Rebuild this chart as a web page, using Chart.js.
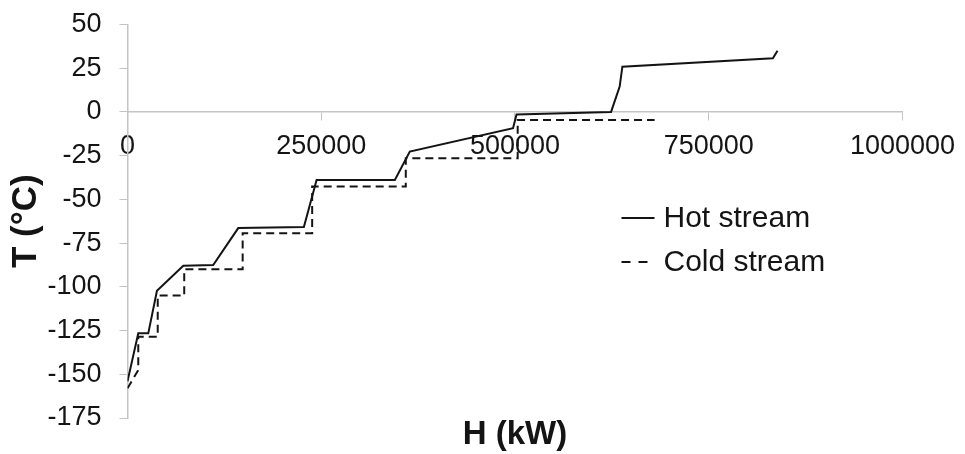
<!DOCTYPE html>
<html>
<head>
<meta charset="utf-8">
<script src="https://cdn.jsdelivr.net/npm/chart.js@4/dist/chart.umd.min.js"></script>
<style>
  html, body { margin: 0; padding: 0; background: #fff; }
  #wrap { width: 965px; height: 454px; }
</style>
</head>
<body>
<div id="wrap"><canvas id="c" width="965" height="454"></canvas></div>
<script>
// Composite curves: enthalpy H (kW) against temperature T (°C)
const hotH  = [0, 13900, 26800, 38000, 72000, 110600, 142900, 227600, 244000, 345000, 364300, 497500, 502000, 624000, 635100, 638600, 832800, 838800];
const hotT  = [-154, -126.6, -126.6, -102.2, -88, -87.5, -66.4, -65.8, -38.9, -38.9, -22.7, -9.3, -1.5, 0, 14.5, 25.9, 30.7, 35];
const coldH = [0, 13900, 13900, 39000, 39000, 73200, 73200, 148600, 148600, 238300, 238300, 359100, 359100, 503500, 503500, 680200];
const coldT = [-158, -147.6, -128.5, -128.5, -105, -105, -90, -90, -69.3, -69.3, -42.7, -42.7, -26.5, -26.5, -4.6, -4.6];

const seriesNames = ['Hot stream', 'Cold stream'];
const xTicks = [0, 250000, 500000, 750000, 1000000];
const yTicks = [50, 25, 0, -25, -50, -75, -100, -125, -150, -175];
const xTitle = 'H (kW)';
const yTitle = 'T (°C)';

const FONT = '"Liberation Sans", Arial, sans-serif';
const INK = '#141414';
const AXIS = '#c4c4c4';

const toPoints = (xs, ys) => xs.map((x, i) => ({ x, y: ys[i] }));

// Legend drawn inside the plot, to the right of the curves
const streamLegend = {
  id: 'streamLegend',
  afterDraw(chart) {
    const { ctx, chartArea: a } = chart;
    const x0 = a.left + 494;
    const rows = [a.top + 193.5, a.top + 237.5];
    const sampleDash = [[], [9, 8]];
    const sampleLen = [33, 26];
    ctx.save();
    chart.data.datasets.forEach((ds, i) => {
      const y = rows[i];
      ctx.beginPath();
      ctx.setLineDash(sampleDash[i]);
      ctx.strokeStyle = ds.borderColor;
      ctx.lineWidth = 2;
      ctx.moveTo(x0, y);
      ctx.lineTo(x0 + sampleLen[i], y);
      ctx.stroke();
      ctx.setLineDash([]);
      ctx.fillStyle = INK;
      ctx.font = '30px ' + FONT;
      ctx.textAlign = 'left';
      ctx.textBaseline = 'middle';
      ctx.fillText(ds.label, x0 + 42, y + 1);
    });
    ctx.restore();
  }
};

// Horizontal axis title sits under the plot, while the axis itself crosses at T = 0
const bottomTitle = {
  id: 'bottomTitle',
  afterDraw(chart) {
    const { ctx, chartArea: a } = chart;
    ctx.save();
    ctx.fillStyle = INK;
    ctx.font = 'bold 33px ' + FONT;
    ctx.textAlign = 'center';
    ctx.textBaseline = 'middle';
    ctx.fillText(xTitle, (a.left + a.right) / 2, a.bottom + 17);
    ctx.restore();
  }
};

new Chart(document.getElementById('c'), {
  type: 'line',
  data: {
    datasets: [
      {
        label: seriesNames[0],
        data: toPoints(hotH, hotT),
        borderColor: INK,
        borderWidth: 2,
        pointRadius: 0,
        tension: 0,
        fill: false
      },
      {
        label: seriesNames[1],
        data: toPoints(coldH, coldT),
        borderColor: INK,
        borderWidth: 2,
        borderDash: [8, 5],
        pointRadius: 0,
        tension: 0,
        fill: false
      }
    ]
  },
  options: {
    responsive: false,
    animation: false,
    devicePixelRatio: 1,
    layout: { padding: { top: 24.5, right: 62, bottom: 36, left: 0 } },
    plugins: {
      legend: { display: false },
      tooltip: { enabled: false },
      title: { display: false }
    },
    scales: {
      x: {
        type: 'linear',
        position: { y: 0 },
        min: 0,
        max: 1000000,
        afterBuildTicks: s => { s.ticks = xTicks.map(v => ({ value: v })); },
        ticks: {
          color: INK,
          font: { family: FONT, size: 27 },
          padding: 10,
          maxRotation: 0,
          autoSkip: false,
          callback: v => String(v)
        },
        grid: { drawOnChartArea: false, drawTicks: true, tickLength: 8, color: AXIS },
        border: { display: true, color: AXIS, width: 1.5 }
      },
      y: {
        type: 'linear',
        position: 'left',
        min: -175,
        max: 50,
        afterBuildTicks: s => { s.ticks = yTicks.map(v => ({ value: v })); },
        afterFit: s => { s.width = 127.5; s.paddingTop = 0; s.paddingBottom = 0; },
        ticks: {
          color: INK,
          font: { family: FONT, size: 27 },
          padding: 18,
          autoSkip: false,
          callback: v => String(v)
        },
        grid: { drawOnChartArea: false, drawTicks: true, tickLength: 8, color: AXIS },
        border: { display: true, color: AXIS, width: 1.5 },
        title: {
          display: true,
          text: yTitle,
          color: INK,
          font: { family: FONT, size: 35, weight: 'bold' },
          padding: { top: 5, bottom: 2 }
        }
      }
    }
  },
  plugins: [streamLegend, bottomTitle]
});
</script>
</body>
</html>
